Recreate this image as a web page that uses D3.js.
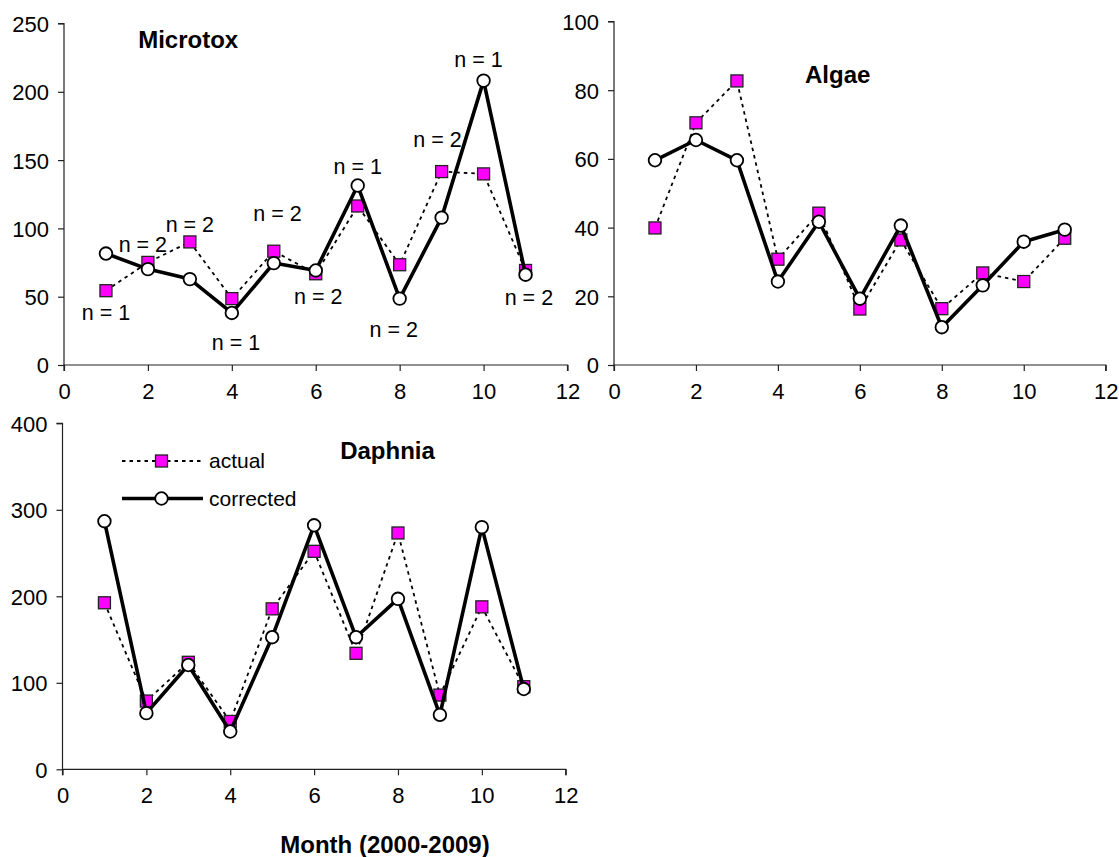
<!DOCTYPE html>
<html>
<head>
<meta charset="utf-8">
<script src="https://cdn.jsdelivr.net/npm/d3@7"></script>
<style>
  html, body { margin: 0; padding: 0; background: #fff; }
  svg { display: block; }
  text { font-family: "Liberation Sans", Arial, sans-serif; fill: #000; }
</style>
</head>
<body>
<svg id="chart" width="1119" height="857"></svg>
<script>
// Months 1..11
const months = [1, 2, 3, 4, 5, 6, 7, 8, 9, 10, 11];

// Microtox
const microtoxActual    = [54.4, 75.1, 90.1, 48.6, 83.3, 66.8, 116.4, 73.4, 141.6, 139.9, 69.2];
const microtoxCorrected = [81.6, 70.2, 62.9, 38.1, 74.6, 69.2, 131.4, 48.6, 107.9, 208.2, 66.1];
const microtoxN         = [1, 2, 2, 1, 2, 2, 1, 2, 2, 1, 2];

// Algae
const algaeActual    = [39.9, 70.5, 82.7, 30.8, 44.2, 16.3, 36.4, 16.4, 26.8, 24.3, 36.9];
const algaeCorrected = [59.6, 65.5, 59.6, 24.3, 41.7, 19.3, 40.6, 11.0, 23.2, 35.9, 39.4];

// Daphnia
const daphniaActual    = [192.5, 78.9, 123.7, 55.3, 185.5, 252.0, 134.1, 273.2, 85.8, 187.8, 95.5];
const daphniaCorrected = [286.8, 64.9, 120.6, 43.7, 152.7, 282.1, 152.7, 197.1, 63.0, 280.0, 92.8];

// Axis ticks
const xTicks = [0, 2, 4, 6, 8, 10, 12];
const microtoxTicks = [0, 50, 100, 150, 200, 250];
const algaeTicks = [0, 20, 40, 60, 80, 100];
const daphniaTicks = [0, 100, 200, 300, 400];

// Where each "n = …" note sits, in (month, value) units of the Microtox panel
const microtoxNSpots = [
  [1.0, 38.6], [1.88, 88], [3.0, 103], [4.1, 16.3], [5.09, 111], [6.06, 49.8],
  [7.0, 145.5], [7.86, 26], [8.9, 165], [9.88, 223.3], [11.08, 49.6]
];

const svg = d3.select("#chart");

const TICK_FONT = 22;
const SQ = 12;
const CIRCLE_R = 6.3;
const DOT_DASH = "3.5,4";
const DOT_WIDTH = 1.8;
const SOLID_WIDTH = 3.6;

function drawPanel(cfg) {
  const x = d3.scaleLinear().domain([0, 12]).range([cfg.left, cfg.right]);
  const y = d3.scaleLinear().domain([0, cfg.max]).range([cfg.bottom, cfg.top]);
  const g = svg.append("g");

  // Axes
  const xAxis = d3.axisBottom(x).tickValues(xTicks).tickSize(6).tickPadding(12).tickSizeOuter(6);
  const yAxis = d3.axisLeft(y).tickValues(cfg.ticks).tickSize(6).tickPadding(9).tickSizeOuter(6);

  const gx = g.append("g").attr("transform", `translate(0,${cfg.bottom})`).call(xAxis);
  const gy = g.append("g").attr("transform", `translate(${cfg.left},0)`).call(yAxis);
  [gx, gy].forEach(a => {
    a.select(".domain").attr("stroke", "#222").attr("stroke-width", 1.2);
    a.selectAll(".tick line").attr("stroke", "#222").attr("stroke-width", 1.2);
    a.selectAll(".tick text")
      .style("font-family", '"Liberation Sans", Arial, sans-serif')
      .style("font-size", TICK_FONT + "px")
      .attr("fill", "#000");
  });
  gx.select(".domain").attr("d", `M${cfg.left},6V0H${cfg.right}V6`);
  gy.select(".domain").attr("d", `M-6,${cfg.top}H0V${cfg.bottom}`);
  gy.selectAll(".tick text").attr("dy", "0.36em");

  const line = d3.line().x((d, i) => x(months[i])).y(d => y(d));

  // actual series: thin dashed line with magenta squares
  g.append("path")
    .datum(cfg.actual)
    .attr("d", line)
    .attr("fill", "none")
    .attr("stroke", "#000")
    .attr("stroke-width", DOT_WIDTH)
    .attr("stroke-dasharray", DOT_DASH);
  g.selectAll(".sq")
    .data(cfg.actual)
    .enter().append("rect")
    .attr("x", (d, i) => x(months[i]) - SQ / 2)
    .attr("y", d => y(d) - SQ / 2)
    .attr("width", SQ).attr("height", SQ)
    .attr("fill", "#ff00ff")
    .attr("stroke", "#222")
    .attr("stroke-width", 1.3);

  // corrected series: heavy solid line with open circles
  g.append("path")
    .datum(cfg.corrected)
    .attr("d", line)
    .attr("fill", "none")
    .attr("stroke", "#000")
    .attr("stroke-width", SOLID_WIDTH)
    .attr("stroke-linejoin", "round");
  g.selectAll(".ci")
    .data(cfg.corrected)
    .enter().append("circle")
    .attr("cx", (d, i) => x(months[i]))
    .attr("cy", d => y(d))
    .attr("r", CIRCLE_R)
    .attr("fill", "#fff")
    .attr("stroke", "#000")
    .attr("stroke-width", 1.8);

  // panel title
  g.append("text")
    .attr("x", x(cfg.titleAt[0]))
    .attr("y", y(cfg.titleAt[1]))
    .attr("text-anchor", "middle")
    .attr("dy", "0.35em")
    .style("font-weight", "bold")
    .style("font-size", "24px")
    .text(cfg.name);

  return { x, y, g };
}

const micro = drawPanel({
  name: "Microtox", left: 64, right: 567.5, top: 23.5, bottom: 365,
  max: 250, ticks: microtoxTicks, actual: microtoxActual, corrected: microtoxCorrected,
  titleAt: [2.96, 237.9]
});

// sample-size notes
micro.g.selectAll(".nlab")
  .data(microtoxN)
  .enter().append("text")
  .attr("x", (d, i) => micro.x(microtoxNSpots[i][0]))
  .attr("y", (d, i) => micro.y(microtoxNSpots[i][1]))
  .attr("text-anchor", "middle")
  .attr("dy", "0.35em")
  .style("font-size", "21.5px")
  .text(d => `n = ${d}`);

drawPanel({
  name: "Algae", left: 614, right: 1105.7, top: 21.5, bottom: 365,
  max: 100, ticks: algaeTicks, actual: algaeActual, corrected: algaeCorrected,
  titleAt: [5.46, 84.5]
});

drawPanel({
  name: "Daphnia", left: 62.5, right: 565.7, top: 423.3, bottom: 769.3,
  max: 400, ticks: daphniaTicks, actual: daphniaActual, corrected: daphniaCorrected,
  titleAt: [7.75, 367.9]
});

// legend
const legend = svg.append("g");
const legRows = [
  { label: "actual", y: 461, dash: DOT_DASH, width: DOT_WIDTH, marker: "square" },
  { label: "corrected", y: 498.5, dash: null, width: SOLID_WIDTH, marker: "circle" }
];
legRows.forEach(r => {
  legend.append("line")
    .attr("x1", 122).attr("x2", 203).attr("y1", r.y).attr("y2", r.y)
    .attr("stroke", "#000").attr("stroke-width", r.width)
    .attr("stroke-dasharray", r.dash);
  if (r.marker === "square") {
    legend.append("rect")
      .attr("x", 161.5 - SQ / 2).attr("y", r.y - SQ / 2).attr("width", SQ).attr("height", SQ)
      .attr("fill", "#ff00ff").attr("stroke", "#222").attr("stroke-width", 1.3);
  } else {
    legend.append("circle")
      .attr("cx", 161.5).attr("cy", r.y).attr("r", CIRCLE_R)
      .attr("fill", "#fff").attr("stroke", "#000").attr("stroke-width", 1.8);
  }
  legend.append("text")
    .attr("x", 209).attr("y", r.y).attr("dy", "0.35em")
    .style("font-size", "21px")
    .text(r.label);
});

// x axis title
svg.append("text")
  .attr("x", 385).attr("y", 845)
  .attr("text-anchor", "middle")
  .attr("dy", "0.35em")
  .style("font-weight", "bold")
  .style("font-size", "24px")
  .text("Month (2000-2009)");
</script>
</body>
</html>
